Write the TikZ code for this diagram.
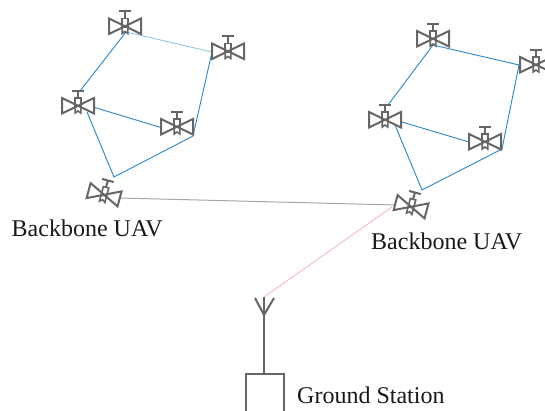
\documentclass[tikz,border=0pt]{standalone}
\usepackage{fontspec}
\setmainfont{Liberation Serif}
\definecolor{blue1}{HTML}{2A85C8}
\definecolor{blue2}{HTML}{93C6EA}
\definecolor{gline}{HTML}{A6A6A6}
\definecolor{rline}{HTML}{F6B3BC}
\definecolor{iconc}{HTML}{666666}
\tikzset{
  x=1pt,y=-1pt,
  gr/.style={draw=iconc,line width=2pt},
  lnk/.style={draw=#1,line width=0.9pt},
  lnk/.default={blue1},
  lbl/.style={font=\fontsize{24}{28}\selectfont,text=black!90,inner sep=0pt,anchor=west},
  uavicon/.pic={
    \draw[gr,line join=miter] (-16,-8) -- (16,7.5) -- (16,-8) -- (-16,7.5) -- cycle;
    \draw[gr,line width=1.6pt] (-2.8,-8) rectangle (2.8,0.5);
    \draw[gr,line width=1.6pt] (-2.8,0.5) -- (-2.8,7) -- (0,5) -- (2.8,7) -- (2.8,0.5);
    \draw[gr] (0,-8) -- (0,-15) (-6,-15) -- (6,-15);
  }
}
\begin{document}
\begin{tikzpicture}
\useasboundingbox (0,0) rectangle (545,411);
% left group connection points
\coordinate (a1) at (126,32);
\coordinate (a2) at (212,52);
\coordinate (a3) at (193,136);
\coordinate (a4) at (114,177);
\coordinate (a5) at (87,112);
\coordinate (a6) at (80,91);
\coordinate (a7) at (93,107);
\coordinate (a8) at (161,127.5);
% right group connection points
\coordinate (b1) at (433,45);
\coordinate (b2) at (519,65);
\coordinate (b3) at (502,149);
\coordinate (b4) at (422,190);
\coordinate (b5) at (395,125);
\coordinate (b6) at (388,105);
\coordinate (b7) at (402,122);
\coordinate (b8) at (469,142);
\coordinate (c1) at (120,198);
\coordinate (c2) at (395,205);
\coordinate (c3) at (392,207);
\coordinate (c4) at (264,297);
\draw[lnk=blue2] (a1) -- (a2);
\draw[lnk] (a2) -- (a3) -- (a4) -- (a5);
\draw[lnk] (a1) -- (a6);
\draw[lnk] (a7) -- (a8);
\draw[lnk] (b1) -- (b2) -- (b3) -- (b4) -- (b5);
\draw[lnk] (b1) -- (b6);
\draw[lnk] (b7) -- (b8);
\draw[draw=gline,line width=1pt] (c1) -- (c2);
\draw[draw=rline,line width=0.8pt] (c3) -- (c4);
\pic at (125,26.5) {uavicon};
\pic at (228,51.5) {uavicon};
\pic at (78,106) {uavicon};
\pic at (177,127) {uavicon};
\pic at (433,39) {uavicon};
\pic at (536,65) {uavicon};
\pic at (385,120) {uavicon};
\pic at (485,142) {uavicon};
\pic[rotate=-15] at (104,195) {uavicon};
\pic[rotate=-15] at (411,207) {uavicon};
% ground station
\coordinate (g0) at (264,297);
\coordinate (g1) at (264,315);
\coordinate (g2) at (264,374);
\coordinate (gl) at (255,298);
\coordinate (gr) at (274,298);
\draw[gr] (g0) -- (g2);
\draw[gr] (gl) -- (g1) -- (gr);
\draw[gr] (246,412) -- (246,374) -- (283.5,374) -- (283.5,412);
\node[lbl] (t1) at (11.5,228) {Backbone UAV};
\node[lbl] (t2) at (371,241) {Backbone UAV};
\node[lbl] (t3) at (297,395) {Ground Station};
\end{tikzpicture}
\end{document}
